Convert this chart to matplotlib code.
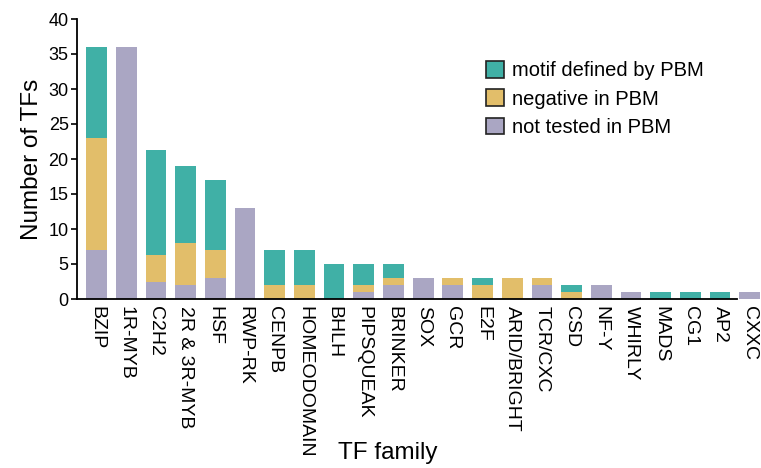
import matplotlib.pyplot as plt
import numpy as np

plt.rcParams['font.family'] = ['Liberation Sans', 'DejaVu Sans']

families = ['BZIP', '1R-MYB', 'C2H2', '2R & 3R-MYB', 'HSF', 'RWP-RK', 'CENPB',
            'HOMEODOMAIN', 'BHLH', 'PIPSQUEAK', 'BRINKER', 'SOX', 'GCR', 'E2F',
            'ARID/BRIGHT', 'TCR/CXC', 'CSD', 'NF-Y', 'WHIRLY', 'MADS', 'CG1',
            'AP2', 'CXXC']
not_tested = [7, 36, 2.5, 2, 3, 13, 0, 0, 0, 1, 2, 3, 2, 0, 0, 2, 0, 2, 1, 0, 0, 0, 1]
negative = [16, 0, 3.8, 6, 4, 0, 2, 2, 0, 1, 1, 0, 1, 2, 3, 1, 1, 0, 0, 0, 0, 0, 0]
motif = [13, 0, 15, 11, 10, 0, 5, 5, 5, 3, 2, 0, 0, 1, 0, 0, 1, 0, 0, 1, 1, 1, 0]

teal = '#40b0a6'
yellow = '#e2be6a'
purple = '#aaa6c3'

fig = plt.figure(figsize=(7.61, 4.68), dpi=100)
ax = fig.add_axes([77 / 761, 169 / 468, 684 / 761, 280 / 468])

x = np.arange(len(families))
nt = np.array(not_tested)
ng = np.array(negative)
mt = np.array(motif)
w = 0.7
ax.bar(x, nt, w, color=purple, label='not tested in PBM')
ax.bar(x, ng, w, bottom=nt, color=yellow, label='negative in PBM')
ax.bar(x, mt, w, bottom=nt + ng, color=teal, label='motif defined by PBM')

ax.set_xlim(-0.66, 22.38)
ax.set_ylim(0, 40)
ax.set_yticks(range(0, 41, 5))
ax.set_xticks(x)
ax.set_xticklabels(families, rotation=-90, fontsize=14)
ax.tick_params(axis='x', length=0, pad=5)
ax.tick_params(axis='y', labelsize=13, width=1.2, length=4, pad=2)

for s in ['top', 'right']:
    ax.spines[s].set_visible(False)
ax.spines['left'].set_linewidth(1.3)
ax.spines['bottom'].set_linewidth(1.3)
ax.spines['bottom'].set_bounds(-0.66, 21.57)

ax.set_ylabel('Number of TFs', fontsize=17.5, labelpad=4)
ax.set_xlabel('TF family', fontsize=17.5)
ax.xaxis.set_label_coords(0.455, -0.512)

h, l = ax.get_legend_handles_labels()
leg = ax.legend(h[::-1], l[::-1], loc='upper left', bbox_to_anchor=(0.572, 0.915),
                frameon=False, fontsize=14.5, handlelength=0.9, handleheight=0.9,
                handletextpad=0.35, labelspacing=0.45)
for p in leg.get_patches():
    p.set_edgecolor('#222222')
    p.set_linewidth(1.2)

fig.savefig('out.png', dpi=100)
